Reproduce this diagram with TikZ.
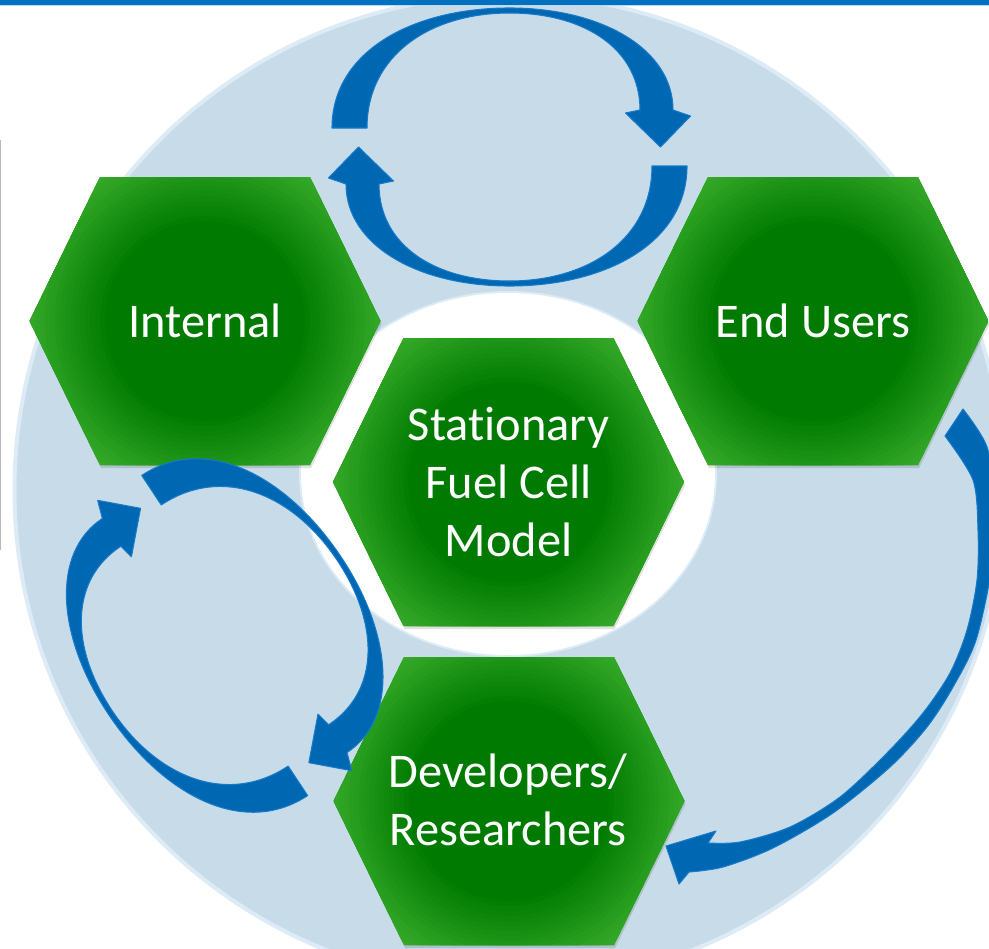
\documentclass[tikz,border=0pt]{standalone}
\usepackage{fontspec}
\setmainfont{Carlito}[Ligatures=NoCommon]

\definecolor{barblue}{RGB}{0,112,192}
\definecolor{barline}{RGB}{189,215,238}
\definecolor{diskblue}{RGB}{199,220,232}
\definecolor{diskglow}{RGB}{220,235,245}
\definecolor{arrowblue}{RGB}{0,103,178}
\definecolor{arrowedge}{RGB}{20,122,202}
\definecolor{hexdark}{RGB}{0,122,0}
\definecolor{hexlight}{RGB}{60,176,46}

\newcommand{\labelsize}{\fontsize{36.3pt}{43.7pt}\selectfont}

\tikzset{
  hexlabel/.style={text=white, font=\labelsize, align=center, inner sep=0pt},
  blockarrow/.style={fill=arrowblue, draw=arrowedge, line width=0.8pt, line join=round},
  hexcell/.pic={
    \begin{scope}[shift={(1,3)}]
      \fill[black,opacity=0.12] (-175.5,0) -- (-105,-144) -- (105,-144) -- (175.5,0) -- (105,144) -- (-105,144) -- cycle;
    \end{scope}
    \begin{scope}
      \clip (-175.5,0) -- (-105,-144) -- (105,-144) -- (175.5,0) -- (105,144) -- (-105,144) -- cycle;
      \fill[hexlight] (0,0) circle (190);
      % radial glow, light rim to dark middle
      \foreach \k in {1,...,18}{
        \pgfmathtruncatemacro{\mix}{100*\k/18}
        \fill[hexdark!\mix!hexlight] (0,0) circle ({190-5*\k});
      }
    \end{scope}
  },
  cyclearrow/.pic={
    \filldraw[blockarrow] (-177.5,-19) .. controls (-177.5,-95) and (-98,-139) .. (0,-139)
      .. controls (92,-139) and (163.5,-98) .. (163.5,-37) -- (181,-31) -- (151,0) -- (116,-34) -- (130.5,-37)
      .. controls (130.5,-98) and (75,-134) .. (0,-134)
      .. controls (-79,-134) and (-142.5,-92) .. (-142.5,-19) -- cycle;
  },
  cyclepair/.pic={
    \pic[transform shape] {cyclearrow};
    \pic[transform shape, rotate=180] {cyclearrow};
  }
}

\begin{document}
\begin{tikzpicture}[x=0.75pt,y=0.75pt,yscale=-1,xscale=1]
\useasboundingbox (0,0) rectangle (989,949);
\clip (0,0) rectangle (989,949);

%Shape: Circle [disk]
\fill[diskblue] (509.5,490) circle (495);
\draw[diskglow, line width=3pt] (509.5,490) circle (495);
%Shape: Ellipse [hole]
\draw[diskglow, line width=3pt] (508,474) ellipse [x radius=207, y radius=181];
\fill[white] (508,474) ellipse [x radius=207, y radius=181];

%Shape: Rectangle [top bar]
\fill[barblue] (0,0) rectangle (989,5);
\fill[barline] (0,5) rectangle (989,6.5);
%Straight Lines [left edge]
\draw[gray!55, line width=1pt] (0.8,140) -- (0.8,550);

%Shape: Hexagons
\coordinate (intc) at (205,321);
\coordinate (endc) at (813,321);
\coordinate (modc) at (508.5,482);
\coordinate (devc) at (509,801);
\pic[transform shape] at (intc) {hexcell};
\pic[transform shape] at (endc) {hexcell};
\pic[transform shape] at (modc) {hexcell};
\pic[transform shape] at (devc) {hexcell};

% Text Node
\node[hexlabel, anchor=base] (internal) at (205,337.3) {Internal};
% Text Node
\node[hexlabel, anchor=base] (endusers) at (813,337.3) {End Users};
% Text Node
\node[hexlabel] (model) at (508.5,482) {Stationary\\Fuel Cell\\Model};
% Text Node
\node[hexlabel] (devres) at (508,800) {Developers/\\Researchers};

%Curve Arrows [top pair]
\pic[transform shape] at (509.5,147) {cyclepair};
%Curve Arrows [left pair]
\pic[transform shape, rotate=56.5, scale=1.01] at (224.7,635.5) {cyclepair};

%Curve Arrow [right side]
\filldraw[blockarrow] plot[smooth, tension=0.5] coordinates {(963,409) (987,447) (997,507) (992,567) (976,640) (953,687) (927,727) (890,767) (833,813) (773,848) (723,867) (689,872)}
  -- (679,884) -- (666,846) -- (716,831)
  -- plot[smooth, tension=0.5] coordinates {(708,843) (740,842) (790,827) (840,797) (887,753) (923,713) (950,673) (967,630) (977,580) (978,530) (973,480) (945,436)} -- cycle;
\end{tikzpicture}
\end{document}
